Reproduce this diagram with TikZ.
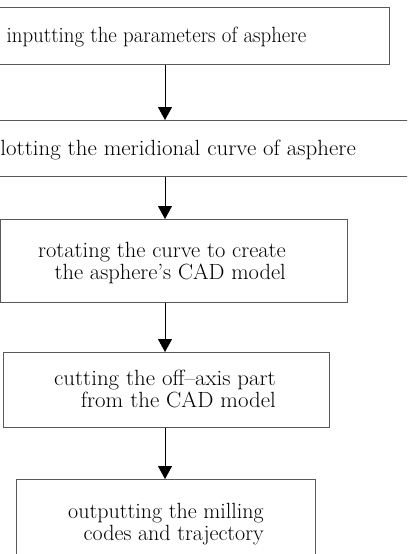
\documentclass[tikz,border=0pt]{standalone}
\usetikzlibrary{arrows.meta}
\begin{document}
\begin{tikzpicture}[x=1pt,y=-1pt,
  box/.style={draw=black!65,line width=0.9pt,minimum width=#1,inner sep=0pt,anchor=north west},
  txt/.style={inner sep=0pt,font=\fontsize{22}{22}\selectfont},
  arr/.style={line width=0.9pt,-{Triangle[width=14pt,length=13pt]}}]
\useasboundingbox (0,0) rectangle (407,554);
\clip (0,0) rectangle (407,554);
\fill[white] (0,0) rectangle (407,554);
% boxes
\node[box=448pt,minimum height=57pt] (b1) at (-59,7) {};
\node[box=510pt,minimum height=56pt] (b2) at (-80,120) {};
\node[box=347pt,minimum height=83pt] (b3) at (0,219) {};
\node[box=326pt,minimum height=75pt] (b4) at (3,352) {};
\node[box=299pt,minimum height=85pt] (b5) at (16,479) {};
\coordinate (ax) at (165,0);
% texts
\node[txt,anchor=base west] (t1) at (6.5,42) {\scalebox{0.948}[1]{inputting the parameters of asphere}};
\node[txt,anchor=base east] (t2) at (356,155) {\scalebox{1.041}[1]{plotting the meridional curve of asphere}};
\node[txt,anchor=base east] (t3) at (286,257) {\scalebox{1.022}[1]{\begin{tabular}[t]{@{}r@{}}rotating the curve to create\\the asphere's CAD model\end{tabular}}};
\node[txt,anchor=base east] (t4) at (276,385) {\scalebox{1.039}[1]{\begin{tabular}[t]{@{}r@{}}cutting the off--axis part\\from the CAD model\end{tabular}}};
\node[txt,anchor=base east] (t5) at (264,518) {\begin{tabular}[t]{@{}r@{}}outputting the milling\\codes and trajectory\end{tabular}};
% arrows
\draw[arr] (b1.south -| ax) -- (b2.north -| ax);
\draw[arr] (b2.south -| ax) -- (b3.north -| ax);
\draw[arr] (b3.south -| ax) -- (b4.north -| ax);
\draw[arr] (b4.south -| ax) -- (b5.north -| ax);
\end{tikzpicture}
\end{document}
